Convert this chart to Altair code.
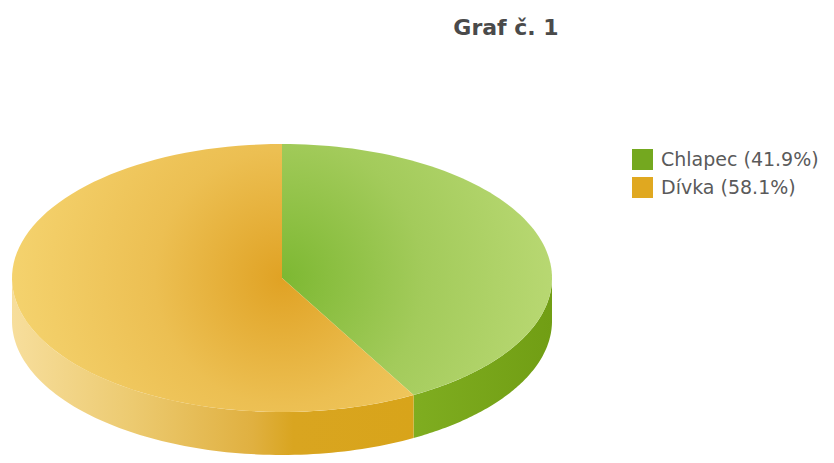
import math
import altair as alt
import pandas as pd

# ---- data ----
labels = ["Chlapec", "Dívka"]
values = [41.9, 58.1]
title_text = "Graf č. 1"

# ---- colours ----
legend_colors = ["#74a81f", "#e0a820"]
top_stops = [
    [("#7db832", 0.0), ("#a3cb5b", 0.5), ("#bad974", 1.0)],
    [("#e0a224", 0.0), ("#ecbf52", 0.45), ("#f5d470", 1.0)],
]
side_stops = [
    [("#7fad20", 0.0), ("#719e14", 1.0)],
    [("#f7de9c", 0.0), ("#ecca70", 0.3), ("#e0b040", 0.6), ("#d9a520", 0.7), ("#d8a41a", 1.0)],
]

N = 90
RX_PX, RY_PX, DEPTH_PX = 270, 134, 43
D = DEPTH_PX / RY_PX
W = 2 * RX_PX
H = round(RY_PX * (2 + D))

total = sum(values)
legend_labels = [f"{l} ({v / total * 100:.1f}%)" for l, v in zip(labels, values)]
df = pd.DataFrame({"label": labels, "value": values, "legend": legend_labels})

# slice angles (for gradient placement only)
cum = 0.0
angles = []
for v in values:
    a0 = 2 * math.pi * cum / total
    cum += v
    angles.append((a0, 2 * math.pi * cum / total))


def radial(a0, a1, stops):
    pts = [(0.0, 0.0)] + [
        (math.sin(a0 + (a1 - a0) * k / 200), math.cos(a0 + (a1 - a0) * k / 200))
        for k in range(201)
    ]
    xs = [p[0] for p in pts]
    ys = [p[1] for p in pts]
    gx = (0 - min(xs)) / (max(xs) - min(xs))
    gy = (max(ys) - 0) / (max(ys) - min(ys))
    r = max(gx, 1 - gx, gy, 1 - gy) * 1.05
    return {
        "gradient": "radial",
        "x1": gx, "y1": gy, "r1": 0,
        "x2": gx, "y2": gy, "r2": r,
        "stops": [{"offset": o, "color": c} for c, o in stops],
    }


def linear(stops):
    return {
        "gradient": "linear",
        "x1": 0, "y1": 0, "x2": 1, "y2": 0,
        "stops": [{"offset": o, "color": c} for c, o in stops],
    }


xs = alt.Scale(domain=[-1, 1], nice=False, zero=False)
ys = alt.Scale(domain=[-1 - D, 1], nice=False, zero=False)

base = (
    alt.Chart(df)
    .transform_window(cum="sum(value)", frame=[None, 0])
    .transform_joinaggregate(total="sum(value)")
    .transform_calculate(
        a0="2*PI*(datum.cum - datum.value)/datum.total",
        a1="2*PI*datum.cum/datum.total",
    )
)

top = (
    base.transform_calculate(idx=f"sequence(0, {N + 2})")
    .transform_flatten(["idx"])
    .transform_calculate(
        ang=f"datum.a0 + (datum.a1 - datum.a0) * (datum.idx - 1) / {N}",
    )
    .transform_calculate(
        px="datum.idx == 0 ? 0 : sin(datum.ang)",
        py="datum.idx == 0 ? 0 : cos(datum.ang)",
    )
)

side = (
    base.transform_calculate(
        s0="max(datum.a0, PI/2)", s1="min(datum.a1, 3*PI/2)"
    )
    .transform_filter("datum.s1 > datum.s0")
    .transform_calculate(idx=f"sequence(0, {2 * N + 2})")
    .transform_flatten(["idx"])
    .transform_calculate(
        j=f"datum.idx <= {N} ? datum.idx : {2 * N + 1} - datum.idx",
    )
    .transform_calculate(ang=f"datum.s0 + (datum.s1 - datum.s0) * datum.j / {N}")
    .transform_calculate(
        px="sin(datum.ang)",
        py=f"datum.idx <= {N} ? cos(datum.ang) : cos(datum.ang) - {D}",
    )
)

enc = dict(
    x=alt.X("px:Q", scale=xs, axis=None),
    y=alt.Y("py:Q", scale=ys, axis=None),
    order=alt.Order("idx:Q"),
)

layers = []
for i, lab in enumerate(labels):
    layers.append(
        side.transform_filter(alt.datum.label == lab)
        .mark_line(interpolate="linear-closed", fill=linear(side_stops[i]), strokeWidth=0)
        .encode(**enc)
    )
for i, lab in enumerate(labels):
    a0, a1 = angles[i]
    layers.append(
        top.transform_filter(alt.datum.label == lab)
        .mark_line(interpolate="linear-closed", fill=radial(a0, a1, top_stops[i]), strokeWidth=0)
        .encode(**enc)
    )

legend_layer = (
    alt.Chart(df)
    .mark_point(filled=True, opacity=0, size=1)
    .encode(
        x=alt.value(0),
        y=alt.value(0),
        color=alt.Color(
            "legend:N",
            scale=alt.Scale(domain=legend_labels, range=legend_colors),
            legend=alt.Legend(
                title=None,
                orient="none",
                legendX=620,
                legendY=5,
                symbolType="square",
                symbolSize=441,
                symbolStrokeWidth=0,
                symbolOpacity=1,
                labelFont="DejaVu Sans",
                labelFontSize=19,
                labelColor="#5a5a5a",
                labelOffset=8,
                labelLimit=400,
                rowPadding=7,
                padding=0,
            ),
        ),
    )
)
layers.append(legend_layer)

chart = (
    alt.layer(*layers)
    .properties(
        width=W,
        height=H,
        title=alt.TitleParams(
            title_text,
            font="DejaVu Sans",
            fontSize=22,
            fontWeight="bold",
            color="#4a4a4a",
            anchor="start",
            frame="group",
            align="center",
            baseline="alphabetic",
            dx=494,
            offset=87,
        ),
        autosize=alt.AutoSizeParams(type="none"),
        padding={"left": 4, "top": 136, "right": 274, "bottom": 0},
    )
    .configure_view(strokeWidth=0)
)

chart.save("out.html", embed_options={"renderer": "svg", "actions": False})
